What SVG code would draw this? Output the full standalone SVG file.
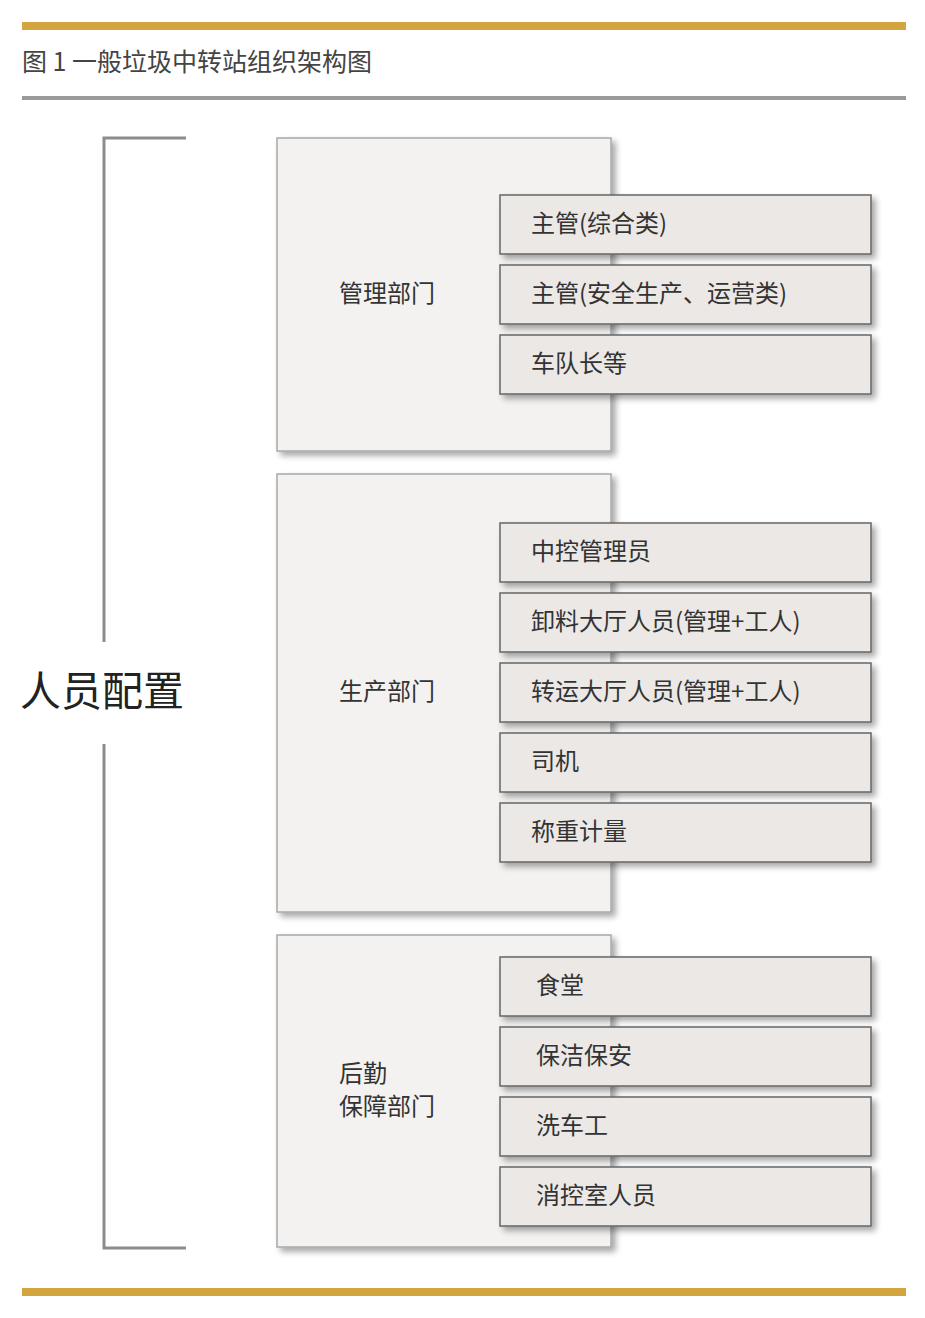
<svg xmlns="http://www.w3.org/2000/svg" width="925" height="1318" viewBox="0 0 925 1318">
<defs>
<filter id="sh" x="-10%" y="-10%" width="130%" height="140%">
<feGaussianBlur in="SourceAlpha" stdDeviation="3"/>
<feOffset dx="4" dy="4"/>
<feComponentTransfer><feFuncA type="linear" slope="0.35"/></feComponentTransfer>
<feMerge><feMergeNode/><feMergeNode in="SourceGraphic"/></feMerge>
</filter>
<style>
text{font-family:"Noto Sans CJK SC","Noto Sans",sans-serif;fill:#333;}
.dept{fill:#f3f2f1;stroke:#a8a8a8;stroke-width:1.5;filter:url(#sh);}
.item{fill:#ebe8e6;stroke:#666;stroke-width:1.5;filter:url(#sh);}
.t{font-size:24px;}
.br{fill:none;stroke:#8c8c8c;stroke-width:3;}
</style>
</defs>
<rect width="925" height="1318" fill="#fff"/>
<rect x="22" y="22" width="884" height="8" fill="#d3a53e"/>
<text x="22" y="71" style="font-size:25px;fill:#444">图 1 一般垃圾中转站组织架构图</text>
<rect x="22" y="96" width="884" height="4" fill="#9a9a9a"/>
<g id="connectors">
<path class="br" d="M186 138H104V642"/>
<path class="br" d="M104 744V1248H186"/>
</g>
<g id="root"><text x="20" y="706" style="font-size:41px;fill:#222">人员配置</text></g>
<g id="d1"><rect class="dept" x="277" y="138" width="334" height="313"/><text class="t" x="339" y="302">管理部门</text></g>
<g id="d2"><rect class="dept" x="277" y="474" width="334" height="438"/><text class="t" x="339" y="700">生产部门</text></g>
<g id="d3"><rect class="dept" x="277" y="935" width="334" height="312"/><text class="t" x="339" y="1082">后勤</text><text class="t" x="339" y="1115">保障部门</text></g>
<g id="i1"><rect class="item" x="500" y="195" width="371" height="59"/><text class="t" x="531" y="232">主管(综合类)</text></g>
<g id="i2"><rect class="item" x="500" y="265" width="371" height="59"/><text class="t" x="531" y="302">主管(安全生产、运营类)</text></g>
<g id="i3"><rect class="item" x="500" y="335" width="371" height="59"/><text class="t" x="531" y="372">车队长等</text></g>
<g id="i4"><rect class="item" x="500" y="523" width="371" height="59"/><text class="t" x="531" y="560">中控管理员</text></g>
<g id="i5"><rect class="item" x="500" y="593" width="371" height="59"/><text class="t" x="531" y="630">卸料大厅人员(管理+工人)</text></g>
<g id="i6"><rect class="item" x="500" y="663" width="371" height="59"/><text class="t" x="531" y="700">转运大厅人员(管理+工人)</text></g>
<g id="i7"><rect class="item" x="500" y="733" width="371" height="59"/><text class="t" x="531" y="770">司机</text></g>
<g id="i8"><rect class="item" x="500" y="803" width="371" height="59"/><text class="t" x="531" y="840">称重计量</text></g>
<g id="i9"><rect class="item" x="500" y="957" width="371" height="59"/><text class="t" x="536" y="994">食堂</text></g>
<g id="i10"><rect class="item" x="500" y="1027" width="371" height="59"/><text class="t" x="536" y="1064">保洁保安</text></g>
<g id="i11"><rect class="item" x="500" y="1097" width="371" height="59"/><text class="t" x="536" y="1134">洗车工</text></g>
<g id="i12"><rect class="item" x="500" y="1167" width="371" height="59"/><text class="t" x="536" y="1204">消控室人员</text></g>
<rect x="22" y="1288" width="884" height="8" fill="#d3a53e"/>
</svg>
